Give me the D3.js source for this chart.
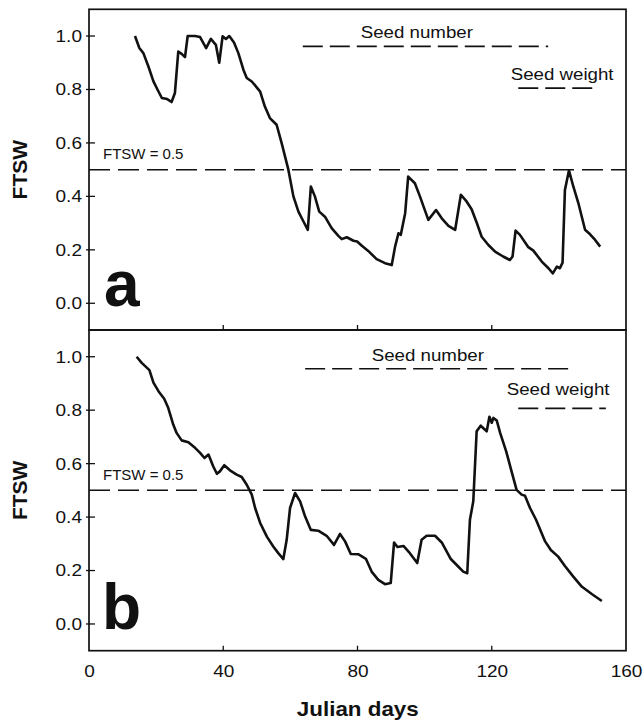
<!DOCTYPE html>
<html>
<head>
<meta charset="utf-8">
<script src="https://cdn.jsdelivr.net/npm/d3@7"></script>
<style>
    body { margin: 0; background: #fff; }
    svg { display: block; font-family: "Liberation Sans", Arial, Helvetica, sans-serif; }
</style>
</head>
<body>
<svg id="svg_ftsw" width="644" height="723"></svg>
<script>
// Tick values for both axes
const dayTicks = [0, 40, 80, 120, 160];
const ftswTicks = [0.0, 0.2, 0.4, 0.6, 0.8, 1.0];
const threshold = 0.5;
const panelNames = ["a", "b"];

// Panel a : FTSW per julian day
const daysA = [
    13.7, 15.0, 16.2, 17.7, 19.2, 20.4, 21.7, 23.3, 24.6, 25.6,
    26.6, 27.6, 28.6, 29.4, 31.6, 33.1, 34.9, 36.3, 37.8, 38.8,
    39.8, 40.8, 41.8, 43.2, 44.5, 46.0, 47.0, 48.5, 51.0, 52.4,
    53.9, 55.9, 57.4, 59.4, 60.9, 62.4, 63.9, 65.2, 66.1, 67.3,
    68.6, 70.3, 72.3, 74.3, 75.3, 76.8, 78.8, 79.9, 81.3, 83.2,
    85.7, 88.2, 90.2, 91.2, 92.2, 92.9, 94.2, 95.1, 97.1, 98.6,
    101.1, 103.4, 105.1, 107.1, 109.1, 110.8, 112.5, 114.0, 115.5, 117.0,
    119.0, 121.0, 123.4, 125.4, 126.2, 127.1, 128.4, 130.9, 132.4, 134.9,
    136.9, 138.2, 139.4, 140.3, 141.1, 141.8, 143.0, 144.3, 145.8, 147.8,
    149.3, 150.8, 152.3
];
const ftswA = [
    1.00, 0.955, 0.936, 0.886, 0.83, 0.80, 0.768, 0.764, 0.753, 0.787,
    0.942, 0.933, 0.921, 1.0, 1.0, 0.996, 0.955, 0.989, 0.967, 0.90,
    0.999, 0.989, 1.0, 0.976, 0.936, 0.874, 0.843, 0.83, 0.792, 0.736,
    0.693, 0.668, 0.599, 0.50, 0.40, 0.343, 0.306, 0.275, 0.437, 0.40,
    0.343, 0.324, 0.281, 0.252, 0.24, 0.247, 0.234, 0.231, 0.215, 0.196,
    0.165, 0.15, 0.143, 0.212, 0.262, 0.256, 0.337, 0.474, 0.449, 0.40,
    0.312, 0.349, 0.318, 0.29, 0.275, 0.406, 0.381, 0.352, 0.302, 0.249,
    0.218, 0.193, 0.175, 0.162, 0.175, 0.272, 0.256, 0.21, 0.197, 0.156,
    0.131, 0.112, 0.137, 0.131, 0.152, 0.424, 0.497, 0.437, 0.375, 0.275,
    0.258, 0.237, 0.212
];
const seedNumberA = [63.7, 136.8];
const seedWeightA = [127.9, 150.3];

// Panel b
const daysB = [
    14.2, 15.7, 18.0, 19.2, 20.7, 22.4, 23.6, 25.1, 26.1, 27.6,
    29.6, 31.6, 33.1, 34.4, 35.6, 37.0, 38.1, 39.0, 40.3, 42.0,
    44.0, 45.5, 47.0, 48.5, 49.5, 51.0, 53.0, 54.9, 56.4, 57.9,
    58.9, 59.9, 61.4, 62.9, 64.4, 66.1, 68.3, 70.8, 73.0, 74.8,
    76.3, 78.0, 80.2, 82.5, 84.2, 86.2, 88.2, 89.9, 90.9, 91.9,
    93.7, 95.6, 97.8, 99.1, 100.6, 103.1, 105.1, 107.8, 110.0, 111.5,
    112.7, 113.5, 114.5, 115.5, 116.7, 118.5, 119.3, 120.0, 120.5, 121.5,
    122.5, 124.3, 125.9, 127.4, 128.9, 129.9, 131.4, 133.2, 135.9, 137.6,
    139.8, 141.8, 144.3, 146.8, 149.8, 152.8
];
const ftswB = [
    1.0, 0.977, 0.95, 0.903, 0.871, 0.843, 0.809, 0.746, 0.715, 0.687,
    0.68, 0.659, 0.64, 0.621, 0.634, 0.59, 0.562, 0.571, 0.594, 0.575,
    0.559, 0.55, 0.521, 0.484, 0.434, 0.378, 0.327, 0.29, 0.265, 0.243,
    0.315, 0.434, 0.49, 0.459, 0.402, 0.352, 0.349, 0.33, 0.296, 0.337,
    0.309, 0.262, 0.261, 0.244, 0.196, 0.165, 0.149, 0.153, 0.305, 0.288,
    0.292, 0.265, 0.228, 0.315, 0.33, 0.33, 0.305, 0.243, 0.215, 0.196,
    0.19, 0.39, 0.459, 0.721, 0.742, 0.721, 0.775, 0.753, 0.771, 0.761,
    0.715, 0.646, 0.571, 0.502, 0.484, 0.48, 0.434, 0.39, 0.309, 0.277,
    0.252, 0.217, 0.177, 0.14, 0.112, 0.086
];
const seedNumberB = [64.4, 144.8];
const seedWeightB = [127.9, 154.0];

const INK = "#111";
const SX = 1.12;   // the scanned lettering is a bit wider than tall

/**
 * One panel of the figure: frame, axes, FTSW curve, threshold and
 * the seed number / seed weight periods
 */
class FtswPanel {

    constructor(svg, days, ftsw, seedNumber, seedWeight, name, box) {
        let g = svg.append("g").attr("id", "panel_" + name);

        let xScale = d3.scaleLinear().domain([0, 160]).range([box.left, box.right]);
        let yScale = d3.scaleLinear().domain([-0.1, 1.1]).range([box.bottom, box.top]);

        // frame
        g.append("rect")
            .attr("x", box.left).attr("y", box.top)
            .attr("width", box.right - box.left)
            .attr("height", box.bottom - box.top)
            .attr("fill", "none")
            .attr("stroke", INK)
            .attr("stroke-width", 1.7);

        // y ticks cross the left frame line
        g.append("g").selectAll("line")
            .data(ftswTicks)
            .enter()
            .append("line")
                .attr("x1", box.left - 3).attr("x2", box.left + 6)
                .attr("y1", d => yScale(d)).attr("y2", d => yScale(d))
                .attr("stroke", INK).attr("stroke-width", 1.3);

        let yAxis = d3.axisLeft(yScale).tickValues(ftswTicks)
            .tickSize(0).tickPadding(0).tickFormat(d3.format(".1f"));
        let ya = g.append("g").attr("transform", `translate(${box.left},0)`).call(yAxis);
        ya.select(".domain").remove();
        ya.attr("font-family", null).attr("font-size", 17);
        ya.selectAll("text")
            .attr("x", 0)
            .attr("fill", INK)
            .attr("transform", `translate(-7,0) scale(${SX},1)`);

        // x ticks point up from the bottom frame line
        g.append("g").selectAll("line")
            .data(dayTicks.slice(1, -1))
            .enter()
            .append("line")
                .attr("x1", d => xScale(d)).attr("x2", d => xScale(d))
                .attr("y1", box.bottom).attr("y2", box.bottom - 5)
                .attr("stroke", INK).attr("stroke-width", 1.3);

        if (box.xLabels) {
            let xAxis = d3.axisBottom(xScale).tickValues(dayTicks).tickSize(0).tickPadding(14);
            let xa = g.append("g").attr("transform", `translate(0,${box.bottom})`).call(xAxis);
            xa.select(".domain").remove();
            xa.attr("font-family", null).attr("font-size", 17);
            xa.selectAll("text").attr("fill", INK).attr("transform", `scale(${SX},1)`);
        }

        // FTSW = 0.5
        g.append("line")
            .attr("x1", box.left).attr("x2", box.right)
            .attr("y1", yScale(threshold)).attr("y2", yScale(threshold))
            .attr("stroke", INK).attr("stroke-width", 1.5)
            .attr("stroke-dasharray", "21,8");

        g.append("text")
            .attr("x", 103)
            .attr("y", yScale(threshold) - 10.5)
            .attr("font-size", 15)
            .attr("fill", INK)
            .text("FTSW = " + threshold.toFixed(1));

        // seed number and seed weight periods
        let periods = [
            {span: seedNumber, level: box.numberLevel, label: "Seed number", pos: box.numberText},
            {span: seedWeight, level: box.weightLevel, label: "Seed weight", pos: box.weightText}
        ];
        periods.forEach(p => {
            g.append("line")
                .attr("x1", xScale(p.span[0])).attr("x2", xScale(p.span[1]))
                .attr("y1", yScale(p.level)).attr("y2", yScale(p.level))
                .attr("stroke", INK).attr("stroke-width", 1.7)
                .attr("stroke-dasharray", "20,7");
            g.append("text")
                .attr("transform", `translate(${p.pos[0]},${p.pos[1]}) scale(1.1,1)`)
                .attr("font-size", 17)
                .attr("fill", INK)
                .text(p.label);
        });

        // the FTSW curve
        let line = d3.line()
            .x(d => xScale(d[0]))
            .y(d => yScale(d[1]));

        g.append("path")
            .datum(d3.zip(days, ftsw))
            .attr("d", line)
            .attr("fill", "none")
            .attr("stroke", INK)
            .attr("stroke-width", 2.6)
            .attr("stroke-linejoin", "round");

        // y title and panel letter
        g.append("text")
            .attr("transform", `translate(27,${(box.top + box.bottom) / 2}) rotate(-90)`)
            .attr("text-anchor", "middle")
            .attr("font-size", 21)
            .attr("font-weight", "bold")
            .attr("fill", INK)
            .text("FTSW");

        g.append("text")
            .attr("x", box.letterX)
            .attr("y", box.letterY)
            .attr("font-size", 64)
            .attr("font-weight", "bold")
            .attr("fill", INK)
            .text(name);
    }
}

let svg = d3.select("#svg_ftsw");

new FtswPanel(svg, daysA, ftswA, seedNumberA, seedWeightA, panelNames[0], {
    left: 89, right: 626, top: 9.3, bottom: 330,
    numberLevel: 0.961, weightLevel: 0.805,
    numberText: [360.7, 38.3], weightText: [510.7, 79.5],
    letterX: 104, letterY: 306, xLabels: false
});

new FtswPanel(svg, daysB, ftswB, seedNumberB, seedWeightB, panelNames[1], {
    left: 89, right: 626, top: 330, bottom: 650.7,
    numberLevel: 0.955, weightLevel: 0.807,
    numberText: [371.7, 360.5], weightText: [506.7, 395],
    letterX: 102, letterY: 629, xLabels: true
});

svg.append("text")
    .attr("transform", `translate(357.8,716) scale(${SX},1)`)
    .attr("text-anchor", "middle")
    .attr("font-size", 20)
    .attr("font-weight", "bold")
    .attr("fill", INK)
    .text("Julian days");
</script>
</body>
</html>
